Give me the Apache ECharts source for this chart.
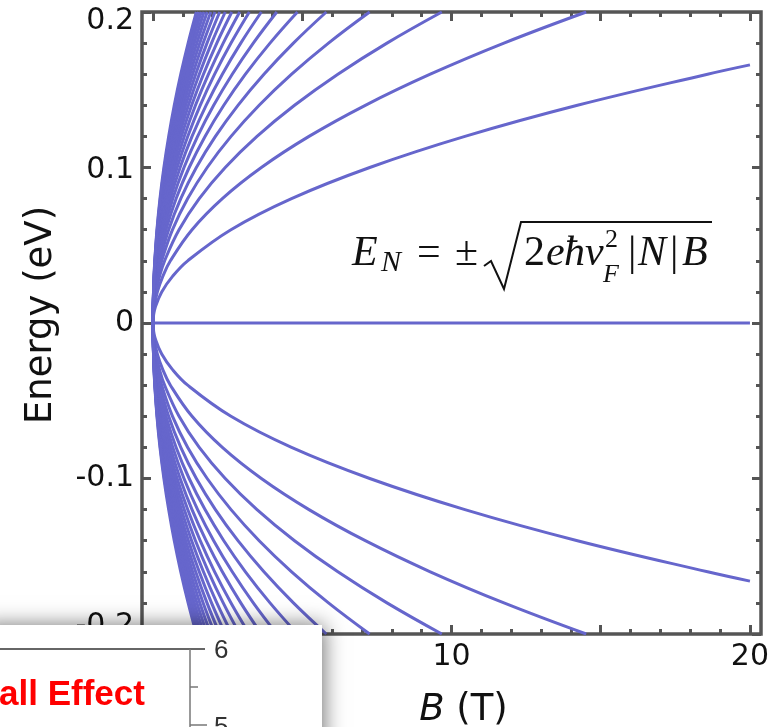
<!DOCTYPE html>
<html>
<head>
<meta charset="utf-8">
<style>
  html, body { margin: 0; padding: 0; background: #fff; }
  #chart { width: 771px; height: 727px; }
</style>
<script src="https://cdn.jsdelivr.net/npm/echarts@6/dist/echarts.min.js"></script>
</head>
<body>
<div id="chart"></div>
<script>
// ---- Data ----
// Energy grid (eV) at which each Landau level's field position B (T) was read
const energies = [0, 0.005, 0.01, 0.02, 0.03, 0.04, 0.06, 0.08, 0.10, 0.12, 0.14, 0.16, 0.18, 0.20];
// Landau level indices N (positive branch; negative branch is its mirror image)
const levelN = [1, 2, 3, 4, 5, 6, 7, 8, 9, 10, 11, 12, 13, 14, 15, 16, 17, 18, 19, 20];
// B (T) at which level N reaches each energy in `energies` (null = beyond B = 20 T)
const levelB = [
  [0, 0.018, 0.073, 0.29, 0.653, 1.16, 2.61, 4.64, 7.26, 10.45, 14.22, 18.58, null, null],
  [0, 0.009, 0.036, 0.145, 0.327, 0.581, 1.306, 2.322, 3.629, 5.225, 7.112, 9.289, 11.757, 14.514],
  [0, 0.006, 0.024, 0.097, 0.218, 0.387, 0.871, 1.548, 2.419, 3.483, 4.741, 6.193, 7.838, 9.676],
  [0, 0.0045, 0.018, 0.073, 0.163, 0.290, 0.653, 1.161, 1.814, 2.613, 3.556, 4.644, 5.878, 7.257],
  [0, 0.0036, 0.015, 0.058, 0.131, 0.232, 0.523, 0.929, 1.451, 2.090, 2.845, 3.716, 4.703, 5.806],
  [0, 0.003, 0.012, 0.048, 0.109, 0.194, 0.436, 0.774, 1.210, 1.742, 2.371, 3.096, 3.919, 4.838],
  [0, 0.0026, 0.010, 0.041, 0.093, 0.166, 0.373, 0.663, 1.037, 1.493, 2.032, 2.654, 3.359, 4.147],
  [0, 0.0023, 0.009, 0.036, 0.082, 0.145, 0.327, 0.581, 0.907, 1.306, 1.778, 2.322, 2.939, 3.629],
  [0, 0.002, 0.008, 0.032, 0.073, 0.129, 0.290, 0.516, 0.806, 1.161, 1.580, 2.064, 2.613, 3.226],
  [0, 0.0018, 0.0073, 0.029, 0.065, 0.116, 0.261, 0.464, 0.726, 1.045, 1.422, 1.858, 2.351, 2.903],
  [0, 0.0016, 0.0066, 0.026, 0.059, 0.106, 0.238, 0.422, 0.660, 0.950, 1.293, 1.689, 2.137, 2.639],
  [0, 0.0015, 0.006, 0.024, 0.054, 0.097, 0.218, 0.387, 0.605, 0.871, 1.185, 1.548, 1.959, 2.419],
  [0, 0.0014, 0.0056, 0.022, 0.050, 0.089, 0.201, 0.357, 0.558, 0.804, 1.094, 1.429, 1.808, 2.233],
  [0, 0.0013, 0.0052, 0.021, 0.047, 0.083, 0.187, 0.332, 0.518, 0.746, 1.016, 1.327, 1.679, 2.074],
  [0, 0.0012, 0.0048, 0.019, 0.044, 0.077, 0.174, 0.310, 0.484, 0.697, 0.948, 1.239, 1.567, 1.935],
  [0, 0.0011, 0.0045, 0.018, 0.041, 0.073, 0.163, 0.290, 0.454, 0.653, 0.889, 1.161, 1.469, 1.814],
  [0, 0.0011, 0.0043, 0.017, 0.038, 0.068, 0.154, 0.273, 0.427, 0.615, 0.837, 1.093, 1.383, 1.708],
  [0, 0.001, 0.004, 0.016, 0.036, 0.065, 0.145, 0.258, 0.403, 0.581, 0.790, 1.032, 1.306, 1.613],
  [0, 0.001, 0.0038, 0.015, 0.034, 0.061, 0.138, 0.244, 0.382, 0.550, 0.749, 0.978, 1.237, 1.528],
  [0, 0.0009, 0.0036, 0.015, 0.033, 0.058, 0.131, 0.232, 0.363, 0.523, 0.711, 0.929, 1.176, 1.451]
];
// Where a level ends inside the plot (B, E): only N = 1 stops at the right edge
const levelEnds = { 1: [20, 0.166] };
// N = 0 level: flat at zero energy over this B span
const zeroLevelB = [0, 20];

// Tick values
const xMajorTicks = [0, 5, 10, 15, 20];
const xMinorTicks = [1, 2, 3, 4, 6, 7, 8, 9, 11, 12, 13, 14, 16, 17, 18, 19];
const xTickLabels = [0, 10, 20];
const yMajorTicks = [-0.2, -0.1, 0, 0.1, 0.2];
const yMinorTicks = [-0.18, -0.16, -0.14, -0.12, -0.08, -0.06, -0.04, -0.02,
                     0.02, 0.04, 0.06, 0.08, 0.12, 0.14, 0.16, 0.18];

// ---- Chart ----
const chart = echarts.init(document.getElementById('chart'), null, { renderer: 'canvas' });

const LINE_COLOR = '#6666cc';
const FRAME = '#555555';
const lineStyle = { color: LINE_COLOR, width: 3 };

const series = [];
series.push({
  type: 'line', name: 'N=0', data: zeroLevelB.map(b => [b, 0]),
  showSymbol: false, symbol: 'none', lineStyle, silent: true, animation: false
});
levelB.forEach((row, i) => {
  const pts = [];
  row.forEach((b, j) => { if (b !== null) pts.push([b, energies[j]]); });
  const end = levelEnds[levelN[i]];
  if (end) pts.push(end);
  [1, -1].forEach(sign => {
    series.push({
      type: 'line', name: 'N=' + (sign * levelN[i]),
      data: pts.map(p => [p[0], sign * p[1]]),
      smooth: 0.4, showSymbol: false, symbol: 'none',
      lineStyle, silent: true, animation: false, clip: true
    });
  });
});
series.forEach(s => { s.xAxisIndex = 0; s.yAxisIndex = 0; });

const XMIN = -0.37, XMAX = 20.37;
function xAxisDef(pos, ticks, len, labels) {
  return {
    type: 'value', min: XMIN, max: XMAX, position: pos,
    axisLine: { show: false, onZero: false }, splitLine: { show: false },
    axisTick: { show: true, inside: true, length: len, customValues: ticks,
                lineStyle: { color: FRAME, width: 3 } },
    axisLabel: labels ? {
      show: true, customValues: labels, margin: 8,
      fontFamily: 'DejaVu Sans', fontSize: 30, color: '#111'
    } : { show: false }
  };
}
function yAxisDef(pos, ticks, len, labels) {
  return {
    type: 'value', min: -0.2, max: 0.2, position: pos,
    axisLine: { show: false, onZero: false }, splitLine: { show: false },
    axisTick: { show: true, inside: true, length: len, customValues: ticks,
                lineStyle: { color: FRAME, width: 3 } },
    axisLabel: labels ? {
      show: true, customValues: labels, margin: 8,
      fontFamily: 'DejaVu Sans', fontSize: 30, color: '#111',
      formatter: v => {
        const s = String(Math.round(v * 10) / 10);
        if (v > 0.15) return '{top|' + s + '}';
        if (v < -0.15) return '{bot|' + s + '}';
        if (v > 0.05) return '{dn|' + s + '}';
        return s;
      },
      rich: {
        top: { fontFamily: 'DejaVu Sans', fontSize: 30, color: '#111', padding: [18, 0, 0, 0] },
        bot: { fontFamily: 'DejaVu Sans', fontSize: 30, color: '#111', padding: [0, 0, 16, 0] },
        dn: { fontFamily: 'DejaVu Sans', fontSize: 30, color: '#111', padding: [6, 0, 0, 0] }
      }
    } : { show: false }
  };
}

const xMain = xAxisDef('bottom', xMajorTicks, 9, xTickLabels);
xMain.name = '{i|B} (T)';
xMain.nameLocation = 'middle';
xMain.nameGap = 58;
xMain.nameTextStyle = {
  fontFamily: 'DejaVu Sans', fontSize: 37, color: '#111', padding: [0, 0, 0, 24],
  rich: { i: { fontFamily: 'DejaVu Sans', fontSize: 37, fontStyle: 'italic', color: '#111' } }
};
const yMain = yAxisDef('left', yMajorTicks, 9, yMajorTicks);
yMain.name = 'Energy (eV)';
yMain.nameLocation = 'middle';
yMain.nameRotate = 90;
yMain.nameGap = 82;
yMain.nameTextStyle = { fontFamily: 'DejaVu Sans', fontSize: 37, color: '#111', padding: [0, 0, 0, 16] };

const F = '"Liberation Serif"';
function ftxt(x, y, t, size, italic) {
  return { type: 'text', x, y, z: 50,
    style: { text: t, font: (italic ? 'italic ' : '') + size + 'px ' + F, fill: '#111', verticalAlign: 'middle' } };
}
function z100(el) { el.z = 100; return el; }

const option = {
  backgroundColor: '#ffffff',
  animation: false,
  grid: {
    left: 142, top: 12, width: 619, height: 622,
    outerBoundsMode: 'none', containLabel: false,
    show: true, borderColor: FRAME, borderWidth: 3.5, backgroundColor: '#ffffff'
  },
  xAxis: [
    xMain,
    xAxisDef('bottom', xMinorTicks, 5, null),
    xAxisDef('top', xMajorTicks, 9, null),
    xAxisDef('top', xMinorTicks, 5, null)
  ],
  yAxis: [
    yMain,
    yAxisDef('left', yMinorTicks, 5, null),
    yAxisDef('right', yMajorTicks, 9, null),
    yAxisDef('right', yMinorTicks, 5, null)
  ],
  series,
  graphic: [
    // formula E_N = ±sqrt(2 e hbar v_F^2 |N| B)
    ftxt(352, 254, 'E', 42, true),
    ftxt(381, 263, 'N', 30, true),
    ftxt(417, 254, '=', 42, false),
    ftxt(455, 254, '±', 42, false),
    { type: 'polyline', z: 50, shape: { points: [[484, 266], [491, 261], [504, 289], [521, 222], [712, 222]] },
      style: { stroke: '#111', lineWidth: 2, fill: null } },
    ftxt(524, 254, '2', 42, false),
    ftxt(546, 254, 'e', 42, true),
    ftxt(564, 254, 'ħ', 42, true),
    ftxt(585, 254, 'v', 42, true),
    ftxt(605, 240, '2', 26, false),
    ftxt(603, 275, 'F', 26, true),
    ftxt(628, 254, '|', 42, false),
    ftxt(638, 254, 'N', 42, true),
    ftxt(670, 254, '|', 42, false),
    ftxt(682, 254, 'B', 42, true),
    // overlapping inset (another figure's corner) at bottom-left
    z100({ type: 'rect', shape: { x: -20, y: 625, width: 342, height: 130 },
      style: { fill: '#ffffff', shadowBlur: 20, shadowColor: 'rgba(0,0,0,0.55)', shadowOffsetX: 2, shadowOffsetY: 0 } }),
    z100({ type: 'line', shape: { x1: 0, y1: 649, x2: 205, y2: 649 }, style: { stroke: '#333', lineWidth: 1.6 } }),
    z100({ type: 'line', shape: { x1: 190, y1: 649, x2: 190, y2: 740 }, style: { stroke: '#777', lineWidth: 1.5 } }),
    z100({ type: 'line', shape: { x1: 190, y1: 687, x2: 198, y2: 687 }, style: { stroke: '#777', lineWidth: 1.5 } }),
    z100({ type: 'line', shape: { x1: 190, y1: 725, x2: 207, y2: 725 }, style: { stroke: '#777', lineWidth: 1.5 } }),
    z100({ type: 'text', x: 214, y: 651, style: { text: '6', font: '26px "Liberation Sans"', fill: '#333', verticalAlign: 'middle' } }),
    z100({ type: 'text', x: 214, y: 728, style: { text: '5', font: '26px "Liberation Sans"', fill: '#333', verticalAlign: 'middle' } }),
    z100({ type: 'text', x: -1, y: 695, style: { text: 'all Effect', font: 'bold 35px "Liberation Sans"', fill: '#ff0000', verticalAlign: 'middle' } })
  ]
};
chart.setOption(option);
</script>
</body>
</html>
